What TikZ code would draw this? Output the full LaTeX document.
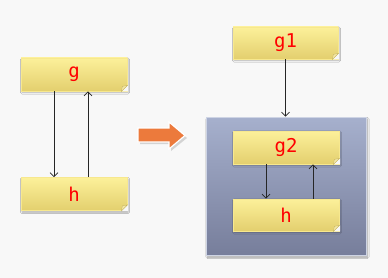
\documentclass[tikz,border=0pt]{standalone}
\usepackage{fontspec}
\newfontfamily\boxfont{DejaVu Sans Mono}
\usetikzlibrary{arrows.meta,shadows.blur,calc}
\definecolor{pagebg}{HTML}{F8F8F8}
\definecolor{noteTop}{HTML}{FCF09A}
\definecolor{noteBot}{HTML}{E3CF6E}
\definecolor{noteEdge}{HTML}{F7E88E}
\definecolor{flap}{HTML}{F4E7A6}
\definecolor{groupTop}{HTML}{A6B0CD}
\definecolor{groupBot}{HTML}{777E9B}
\definecolor{bigarrow}{HTML}{EC7A3C}
\tikzset{
  note/.style={rectangle, top color=noteTop, bottom color=noteBot,
    draw=noteEdge, line width=0.8pt, text=red,
    font=\boxfont\fontsize{19}{19}\selectfont,
    minimum width=106pt, minimum height=33pt, inner sep=0pt,
    blur shadow={shadow xshift=1pt, shadow yshift=-1.5pt,
      shadow blur steps=4, shadow opacity=30}},
  group/.style={rectangle, top color=groupTop, bottom color=groupBot,
    draw=white!45!groupTop, line width=0.6pt,
    minimum width=160pt, minimum height=138pt, inner sep=0pt,
    blur shadow={shadow xshift=1.5pt, shadow yshift=-2pt,
      shadow blur steps=5, shadow opacity=35}},
  link/.style={draw=black!85, line width=0.7pt,
    -{Straight Barb[length=4pt,width=8pt,line width=0.7pt]}},
  foldcorner/.pic={
    \fill[pagebg] (-6pt,0) -- (0.6pt,0) -- (0.6pt,6pt) -- cycle;
    \fill[flap, draw=noteBot!85!black, line width=0.3pt]
      (-6pt,0) -- (0,6pt) -- (-5pt,5pt) -- cycle;
  }
}
\begin{document}
\begin{tikzpicture}[x=1pt,y=-1pt]
  \fill[pagebg] (0,0) rectangle (388,278);
  \useasboundingbox (0,0) rectangle (388,278);

  % left pair
  \node[note] (g) at (74,74.5) {g};
  \node[note] (h) at (74,194) {h};
  \pic at (g.south east) {foldcorner};
  \pic at (h.south east) {foldcorner};
  \draw[link] ($(g.south)+(-20pt,0)$) -- ($(h.north)+(-20pt,0)$);
  \draw[link] ($(h.north)+(14pt,0)$) -- ($(g.south)+(14pt,0)$);

  % block arrow
  \fill[black, opacity=0.15]
    (140,130) -- (171,130) -- (171,125) -- (187,138) -- (171,151)
    -- (171,144) -- (140,144) -- cycle;
  \draw[fill=bigarrow, draw=white, line width=1.2pt, line join=miter]
    (138,128) -- (169,128) -- (169,122) -- (185,135.5) -- (169,149)
    -- (169,142) -- (138,142) -- cycle;

  % right side
  \node[group] (cont) at (286,186) {};
  \node[note, minimum width=105pt, minimum height=32pt] (g1) at (285.5,43) {g1};
  \node[note] (g2) at (286,147.5) {g2};
  \node[note, minimum height=32pt] (h2) at (286,215) {h};
  \pic at (g1.south east) {foldcorner};
  \pic at (g2.south east) {foldcorner};
  \pic at (h2.south east) {foldcorner};
  \draw[link] (g1.south) -- (g1.south |- cont.north);
  \draw[link] ($(g2.south)+(-20pt,0)$) -- ($(h2.north)+(-20pt,0)$);
  \draw[link] ($(h2.north)+(27pt,0)$) -- ($(g2.south)+(27pt,0)$);
\end{tikzpicture}
\end{document}
